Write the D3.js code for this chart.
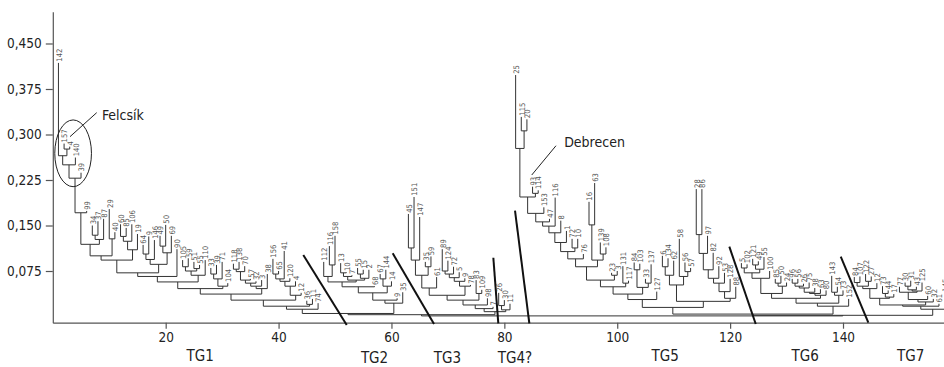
<!DOCTYPE html>
<html><head><meta charset="utf-8">
<script src="https://cdn.jsdelivr.net/npm/d3@7"></script>
<style>
body{margin:0;background:#fff;}
svg{display:block;}
text{font-family:"Liberation Sans Narrow","DejaVu Sans Condensed","Roboto Condensed","Liberation Sans",sans-serif;}
</style></head><body>
<svg id="chart" width="944" height="367"></svg>
<script>
// ---- data: leaves in display order ----
const leafLabels = [
  // TG1
  "142","157","4","140","39","99","34","37","87","29","40","60","85","106","19","64","9","146","49","50","69","90","105","59","51","55","110","33","39","71","104","118","138","70","57","32","3","38","156","65","41","120","4","12","36","11","74",
  // TG2
  "112","116","158","13","10","7","55","15","2","68","67","144","14","9","35",
  // TG3
  "45","151","147","35","59","61","89","124","72","5","9","78","83","109","98","7",
  // TG4
  "26","30","11",
  // TG5
  "25","115","20","93","114","153","47","116","8","1","72","10","76","16","63","139","108","23","3","131","117","84","103","33","137","127","6","134","62","58","56","57","28","86","97","82","92","53","128","88",
  // TG6
  "5","102","121","49","55","100","85","50","24","96","56","26","75","38","63","80","143","54","73","152",
  // TG7
  "84","107","122","27","12","73","44","17","77","30","31","43","125","60","32","61","145"
];
// value at the top of each leaf's line
const leafTops = [
  .418,.285,.280,.262,.237,.174,.150,.157,.161,.177,.139,.152,.146,.152,.136,.118,.132,.126,.133,.151,.133,.111,.093,.096,.090,.085,.093,.080,.085,.090,.055,.087,.090,.083,.062,.058,.060,.070,.095,.075,.108,.063,.058,.039,.026,.029,.022,
  .090,.116,.133,.088,.073,.068,.080,.077,.077,.050,.070,.077,.058,.030,.040,
  .169,.197,.164,.090,.099,.065,.111,.092,.082,.073,.063,.052,.060,.044,.030,.016,
  .039,.027,.021,
  .398,.329,.325,.214,.208,.180,.161,.196,.158,.141,.128,.128,.103,.189,.220,.122,.114,.072,.075,.083,.059,.089,.087,.062,.086,.041,.100,.096,.092,.128,.089,.080,.210,.210,.133,.105,.083,.072,.062,.049,
  .088,.086,.095,.091,.098,.075,.062,.067,.056,.062,.062,.054,.056,.047,.045,.043,.067,.049,.043,.029,
  .065,.066,.070,.066,.055,.050,.043,.037,.049,.056,.059,.049,.056,.034,.029,.021,.039
];
// height at which leaf i and leaf i+1 are joined (lower = nearer the root)
const mergeHeights = [
  .265,.276,.250,.228,.171,.119,.134,.127,.100,.128,.093,.132,.124,.110,.072,.103,.094,.086,.116,.105,.066,.057,.082,.075,.079,.068,.046,.070,.062,.050,.037,.078,.074,.060,.055,.050,.046,.027,.070,.062,.058,.050,.035,.017,.020,.012,
  .005,
  .066,.085,.057,.072,.066,.060,.070,.063,.049,.039,.062,.050,.027,.022,
  .003,
  .113,.093,.068,.082,.047,.035,.075,.070,.064,.058,.050,.027,.038,.019,.013,
  .008,
  .018,.011,
  .001,
  .277,.306,.197,.203,.170,.156,.149,.138,.122,.107,.113,.095,.082,.151,.093,.103,.060,.068,.049,.055,.037,.077,.048,.055,.028,.015,.082,.068,.052,.066,.074,.025,.135,.104,.077,.063,.055,.041,.030,
  .004,
  .080,.072,.085,.078,.063,.038,.055,.050,.030,.055,.050,.047,.040,.038,.035,.022,.040,.035,.017,
  .002,
  .056,.050,.058,.046,.030,.038,.032,.019,.040,.050,.044,.042,.028,.024,.017,.012
];
const xTickValues = [20, 40, 60, 80, 100, 120, 140];
const yTickValues = [0.075, 0.150, 0.225, 0.300, 0.375, 0.450];
const groupNames = ["TG1", "TG2", "TG3", "TG4?", "TG5", "TG6", "TG7"];
const groupCenters = [26.1, 57.0, 69.9, 81.9, 108.5, 133.3, 152.0];

// ---- layout / annotation settings ----
const svg = d3.select("#chart");
const x = d3.scaleLinear().domain([0, 158]).range([52.8, 944.6]);
const y = d3.scaleLinear().domain([-0.0102, 0.5024]).range([322.7, 11.7]);
const dividerLines = [
  [44.38, .1014, 52.07, -.0140],
  [60.22, .1042, 67.54, -.0124],
  [78.05, .0969, 78.93, -.0112],
  [81.89, .1744, 84.43, -.0112],
  [119.86, .1151, 124.54, -.0124],
  [139.6, .0986, 144.49, -.0102]
];
const groupLabelOffsets = [38, 40, 40, 40, 38, 38, 38];

const fmt = d3.formatLocale({decimal: ",", thousands: ".", grouping: [3], currency: ["", ""]}).format(".3f");

// axes
const gx = svg.append("g").attr("transform", `translate(0,${y.range()[0]})`)
  .call(d3.axisBottom(x).tickValues(xTickValues).tickSize(6).tickSizeOuter(0).tickPadding(4));
const gy = svg.append("g").attr("transform", `translate(${x(0)},0)`)
  .call(d3.axisLeft(y).tickValues(yTickValues).tickFormat(fmt).tickSize(7).tickSizeOuter(0).tickPadding(4));
[gx, gy].forEach(g => {
  g.select(".domain").attr("stroke", "#555").attr("stroke-width", 1.2);
  g.selectAll(".tick line").attr("stroke", "#555").attr("stroke-width", 1.2);
  g.selectAll(".tick text").attr("fill", "#222").style("font-size", "13.5px").attr("font-family", null);
});

// build the ordered dendrogram from adjacent merge heights
function build(lo, hi) {
  if (lo === hi) return {leaf: lo, x: x(lo + 1), top: leafTops[lo]};
  let m = lo;
  for (let i = lo; i < hi; i++) if (mergeHeights[i] < mergeHeights[m]) m = i;
  const L = build(lo, m), R = build(m + 1, hi);
  return {left: L, right: R, x: (L.x + R.x) / 2, top: mergeHeights[m]};
}
const root = build(0, leafLabels.length - 1);
const segs = [];
(function walk(n) {
  if (n.leaf !== undefined) return;
  segs.push([n.left.x, y(n.top), n.right.x, y(n.top)]);
  segs.push([n.left.x, y(n.left.top), n.left.x, y(n.top)]);
  segs.push([n.right.x, y(n.right.top), n.right.x, y(n.top)]);
  walk(n.left); walk(n.right);
})(root);

const tree = svg.append("g");
tree.selectAll("line").data(segs).join("line")
  .attr("x1", d => d[0]).attr("y1", d => d[1])
  .attr("x2", d => d[2]).attr("y2", d => d[3])
  .attr("stroke", "#333").attr("stroke-width", 1);

svg.append("g").selectAll("text").data(leafLabels).join("text")
  .attr("transform", (d, i) => `translate(${x(i + 1) + 0.6},${y(leafTops[i]) - 1.2}) rotate(-90)`)
  .attr("dy", "0.35em")
  .attr("fill", "#555")
  .style("font-size", "7.6px")
  .text(d => d);

// group dividers
svg.append("g").selectAll("line").data(dividerLines).join("line")
  .attr("x1", d => x(d[0])).attr("y1", d => y(d[1]))
  .attr("x2", d => x(d[2])).attr("y2", d => y(d[3]))
  .attr("stroke", "#111").attr("stroke-width", 2);

// group names
svg.append("g").selectAll("text").data(groupNames).join("text")
  .attr("x", (d, i) => x(groupCenters[i]))
  .attr("y", (d, i) => y.range()[0] + groupLabelOffsets[i])
  .attr("text-anchor", "middle").attr("fill", "#222")
  .style("font-size", "15px").text(d => d);

// Felcsík annotation
svg.append("ellipse")
  .attr("cx", x(3.6)).attr("cy", y(0.269))
  .attr("rx", x(3.6 + 3.25) - x(3.6)).attr("ry", y(0.269 - 0.055) - y(0.269))
  .attr("fill", "none").attr("stroke", "#222").attr("stroke-width", 1);
svg.append("line")
  .attr("x1", x(3.05)).attr("y1", y(0.2964)).attr("x2", x(7.78)).attr("y2", y(0.336))
  .attr("stroke", "#222").attr("stroke-width", 1);
svg.append("text").attr("x", x(8.7)).attr("y", y(0.324))
  .attr("fill", "#222").style("font-size", "14px").text("Felcsík");

// Debrecen annotation
svg.append("line")
  .attr("x1", x(84.85)).attr("y1", y(0.2332)).attr("x2", x(89.15)).attr("y2", y(0.2815))
  .attr("stroke", "#222").attr("stroke-width", 1);
svg.append("text").attr("x", x(90.6)).attr("y", y(0.2794))
  .attr("fill", "#222").style("font-size", "14px").text("Debrecen");
</script>
</body></html>
